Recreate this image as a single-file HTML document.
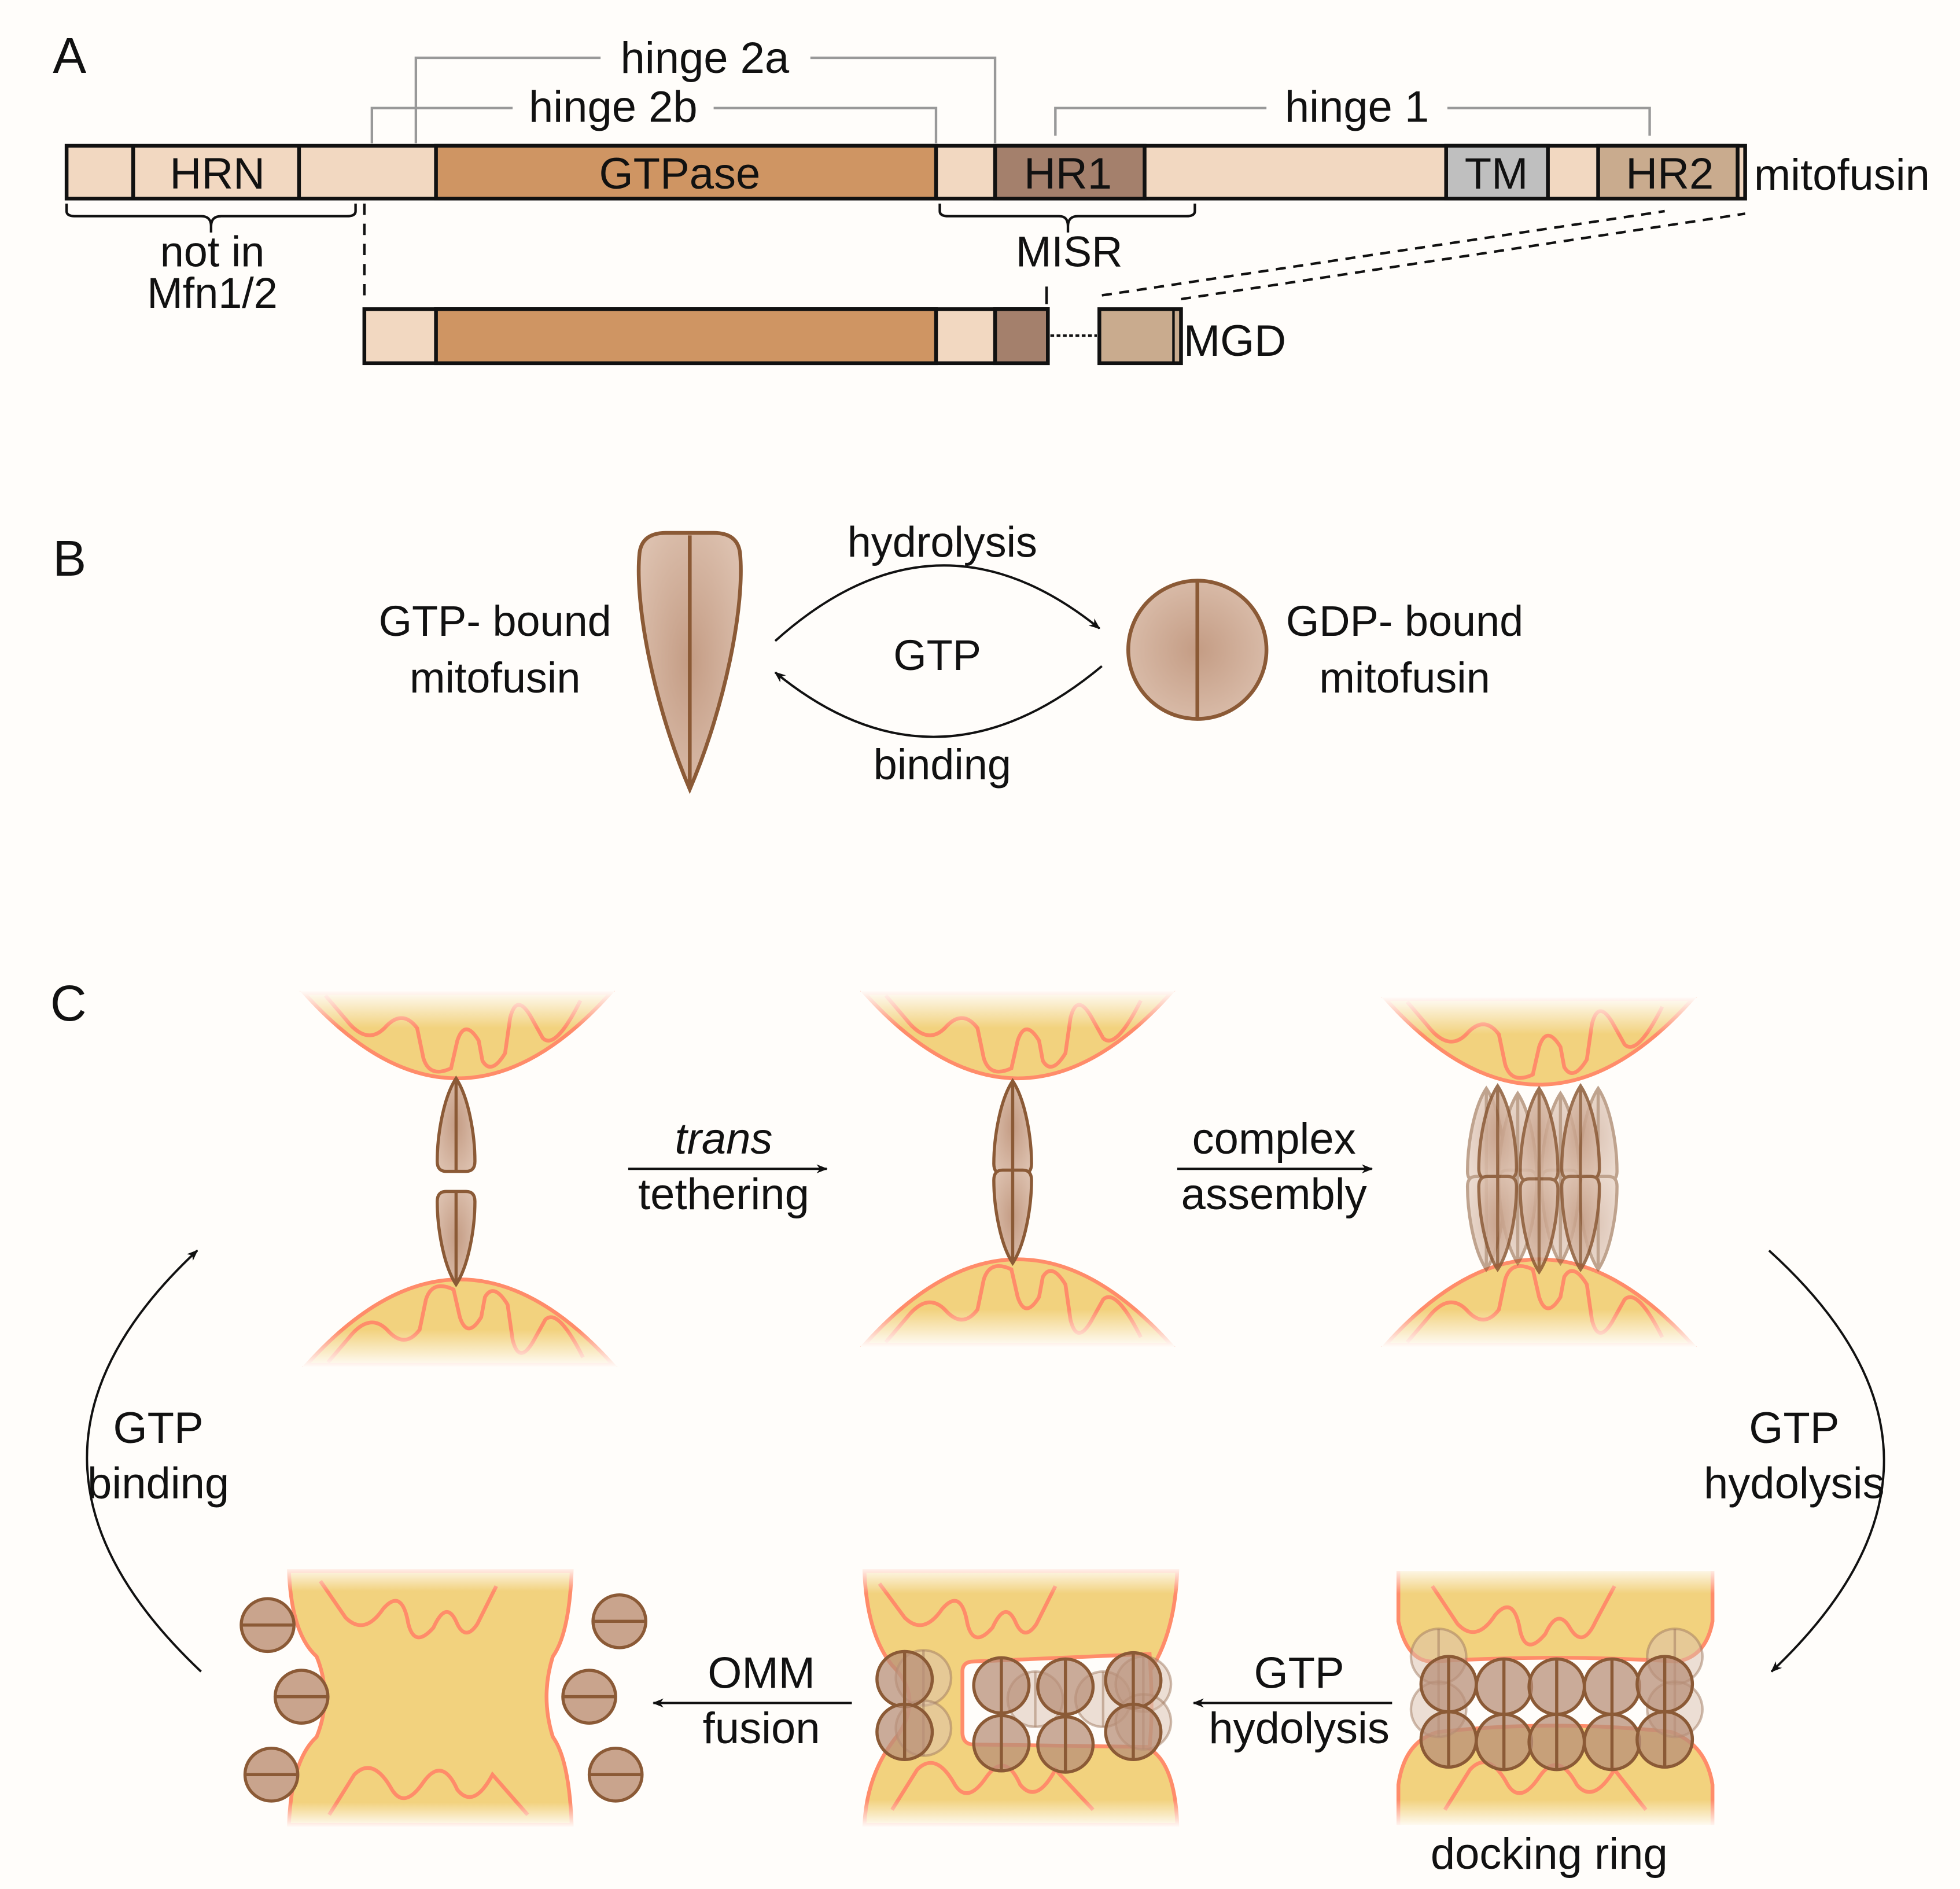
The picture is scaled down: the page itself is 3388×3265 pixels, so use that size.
<!DOCTYPE html>
<html><head><meta charset="utf-8"><style>
html,body{margin:0;padding:0;background:#fffdfa;}
svg{display:block;}
text{font-family:"Liberation Sans",Arial,sans-serif;fill:#111;}
</style></head><body>
<svg width="3388" height="3265" viewBox="0 0 1560 1503" preserveAspectRatio="none" xmlns="http://www.w3.org/2000/svg">
<defs>
<radialGradient id="br" cx="50%" cy="50%" r="60%"><stop offset="0" stop-color="#c49c84"/><stop offset="1" stop-color="#dcc0ae"/></radialGradient>
<linearGradient id="fadeT" x1="0" y1="0" x2="0" y2="1"><stop offset="0" stop-color="#fffdfa" stop-opacity="1"/><stop offset="1" stop-color="#fffdfa" stop-opacity="0"/></linearGradient>
<linearGradient id="fadeB" x1="0" y1="1" x2="0" y2="0"><stop offset="0" stop-color="#fffdfa" stop-opacity="1"/><stop offset="1" stop-color="#fffdfa" stop-opacity="0"/></linearGradient>
<marker id="ah" viewBox="0 0 10 10" refX="9" refY="5" markerWidth="9" markerHeight="9" orient="auto" markerUnits="userSpaceOnUse"><path d="M0,1 L10,5 L0,9 L3,5Z" fill="#111"/></marker>
<g id="topM">
<path d="M-122,0 Q0,136 122,0 Z" fill="#f2d27e" stroke="#ff8c6a" stroke-width="3"/>
<path d="M-105,2 L-88,22 Q-72,42 -58,28 Q-44,12 -32,28 L-27,52 Q-22,68 -5,60 L0,38 Q6,20 17,38 L20,54 Q27,66 38,48 L42,20 Q47,0 58,18 L68,36 Q78,46 98,6" fill="none" stroke="#ff8c6a" stroke-width="3"/>
<rect x="-125" y="-2" width="250" height="30" fill="url(#fadeT)"/>
</g>
<g id="td">
<path d="M0,0 C10,15 15,45 15,66 Q15,74 8,74 L-8,74 Q-15,74 -15,66 C-15,45 -10,15 0,0Z" fill="url(#br)" stroke="#8b5a36" stroke-width="2.5"/>
<line x1="0" y1="0" x2="0" y2="74" stroke="#8b5a36" stroke-width="2.5"/>
</g>
<g id="cv"><circle r="22" fill="#b88f78" fill-opacity="0.75" stroke="#8b5a36" stroke-width="2.5"/><line x1="0" y1="-22" x2="0" y2="22" stroke="#8b5a36" stroke-width="2.5"/></g>
<g id="cf"><circle r="22" fill="#d9bfae" fill-opacity="0.5" stroke="#a07a60" stroke-opacity="0.5" stroke-width="2"/><line x1="0" y1="-22" x2="0" y2="22" stroke="#a07a60" stroke-opacity="0.5" stroke-width="2"/></g>
<g id="ch"><circle r="21" fill="#c9a48d" stroke="#8b5a36" stroke-width="2.5"/><line x1="-21" y1="0" x2="21" y2="0" stroke="#8b5a36" stroke-width="2.5"/></g>
</defs>
<rect width="1560" height="1503" fill="#fffdfa"/>

<!-- A -->
<text x="42" y="58" font-size="40">A</text>
<g fill="none" stroke="#999" stroke-width="2">
<path d="M331,114 V46 H478 M645,46 H792 V114"/>
<path d="M296,114 V86 H408 M568,86 H745 V114"/>
<path d="M840,108 V86 H1008 M1152,86 H1313 V108"/>
</g>
<text x="561" y="58" font-size="35" text-anchor="middle">hinge 2a</text>
<text x="488" y="97" font-size="35" text-anchor="middle">hinge 2b</text>
<text x="1080" y="97" font-size="35" text-anchor="middle">hinge 1</text>
<g stroke="#111" stroke-width="3">
<rect x="53" y="116" width="1336" height="42" fill="#f2d8c1"/>
<rect x="347" y="116" width="398" height="42" fill="#cf9563"/>
<rect x="792" y="116" width="119" height="42" fill="#a4806c"/>
<rect x="1151" y="116" width="81" height="42" fill="#bfbfbf"/>
<rect x="1272" y="116" width="111" height="42" fill="#c9ab8e"/>
<line x1="106" y1="116" x2="106" y2="158"/><line x1="238" y1="116" x2="238" y2="158"/>
</g>
<g font-size="35" text-anchor="middle">
<text x="173" y="150">HRN</text><text x="541" y="150">GTPase</text><text x="850" y="150">HR1</text><text x="1191" y="150">TM</text><text x="1329" y="150">HR2</text>
</g>
<text x="1396" y="151" font-size="35">mitofusin</text>
<g fill="none" stroke="#111" stroke-width="2">
<path d="M53,162 V168 Q53,172 60,172 H160 Q168,172 168,180 V185 M168,180 Q168,172 176,172 H276 Q283,172 283,168 V162"/>
<path d="M748,162 V168 Q748,172 755,172 H843 Q850,172 850,180 V185 M850,180 Q850,172 858,172 H944 Q951,172 951,168 V162"/>
<line x1="290" y1="162" x2="290" y2="242" stroke-dasharray="9,7"/>
<line x1="833" y1="228" x2="833" y2="242"/>
<line x1="877" y1="235" x2="1325" y2="168" stroke-dasharray="8,6"/>
<line x1="940" y1="238" x2="1389" y2="170" stroke-dasharray="8,6"/>
<line x1="836" y1="267" x2="873" y2="267" stroke-dasharray="3,2"/>
</g>
<text x="169" y="212" font-size="34" text-anchor="middle">not in</text>
<text x="169" y="245" font-size="34" text-anchor="middle">Mfn1/2</text>
<text x="851" y="212" font-size="34" text-anchor="middle">MISR</text>
<g stroke="#111" stroke-width="3">
<rect x="290" y="246" width="544" height="43" fill="#f2d8c1"/>
<rect x="347" y="246" width="398" height="43" fill="#cf9563"/>
<rect x="792" y="246" width="42" height="43" fill="#a4806c"/>
<rect x="875" y="246" width="65" height="43" fill="#c9ab8e"/>
<line x1="934" y1="246" x2="934" y2="289" stroke-width="2"/>
</g>
<text x="942" y="283" font-size="35">MGD</text>

<!-- B -->
<text x="42" y="458" font-size="40">B</text>
<path d="M549,628 C520,560 505,480 509,440 Q511,424 530,424 L568,424 Q587,424 589,440 C593,480 578,560 549,628 Z" fill="url(#br)" stroke="#8b5a36" stroke-width="3"/>
<line x1="549" y1="426" x2="549" y2="626" stroke="#8b5a36" stroke-width="3"/>
<circle cx="953" cy="517" r="55" fill="url(#br)" stroke="#8b5a36" stroke-width="3"/>
<line x1="953" y1="462" x2="953" y2="572" stroke="#8b5a36" stroke-width="3"/>
<path d="M617,510 Q745,395 875,500" fill="none" stroke="#111" stroke-width="1.8" marker-end="url(#ah)"/>
<path d="M877,530 Q745,640 617,535" fill="none" stroke="#111" stroke-width="1.8" marker-end="url(#ah)"/>
<g font-size="34" text-anchor="middle">
<text x="750" y="443">hydrolysis</text><text x="746" y="533">GTP</text><text x="750" y="620">binding</text>
<text x="394" y="506">GTP- bound</text><text x="394" y="551">mitofusin</text>
<text x="1118" y="506">GDP- bound</text><text x="1118" y="551">mitofusin</text>
</g>

<!-- C -->
<text x="40" y="812" font-size="40">C</text>
<use href="#topM" transform="translate(364,790)"/>
<use href="#topM" transform="translate(366,1086) scale(1,-1)"/>
<use href="#td" transform="translate(363,858)"/>
<use href="#td" transform="translate(363,1022) scale(1,-1)"/>
<use href="#topM" transform="translate(810,790)"/>
<use href="#topM" transform="translate(810,1070) scale(1,-1)"/>
<use href="#td" transform="translate(806,860)"/>
<use href="#td" transform="translate(806,1005) scale(1,-1)"/>
<use href="#topM" transform="translate(1225,795)"/>
<use href="#topM" transform="translate(1225,1070) scale(1,-1)"/>
<g opacity="0.55">
<use href="#td" transform="translate(1183,866)"/><use href="#td" transform="translate(1183,1010) scale(1,-1)"/>
<use href="#td" transform="translate(1272,866)"/><use href="#td" transform="translate(1272,1010) scale(1,-1)"/>
<use href="#td" transform="translate(1208,870)"/><use href="#td" transform="translate(1208,1005) scale(1,-1)"/>
<use href="#td" transform="translate(1242,870)"/><use href="#td" transform="translate(1242,1005) scale(1,-1)"/>
</g>
<g opacity="0.85">
<use href="#td" transform="translate(1192,864)"/><use href="#td" transform="translate(1192,1010) scale(1,-1)"/>
<use href="#td" transform="translate(1225,866)"/><use href="#td" transform="translate(1225,1012) scale(1,-1)"/>
<use href="#td" transform="translate(1258,864)"/><use href="#td" transform="translate(1258,1010) scale(1,-1)"/>
</g>
<line x1="500" y1="930" x2="658" y2="930" stroke="#111" stroke-width="1.8" marker-end="url(#ah)"/>
<line x1="937" y1="930" x2="1092" y2="930" stroke="#111" stroke-width="1.8" marker-end="url(#ah)"/>
<g font-size="35" text-anchor="middle">
<text x="576" y="918" font-style="italic">trans</text><text x="576" y="962">tethering</text>
<text x="1014" y="918">complex</text><text x="1014" y="962">assembly</text>
<text x="1428" y="1148">GTP</text><text x="1428" y="1192">hydolysis</text>
<text x="126" y="1148">GTP</text><text x="126" y="1192">binding</text>
<text x="1034" y="1343">GTP</text><text x="1034" y="1387">hydolysis</text>
<text x="606" y="1343">OMM</text><text x="606" y="1387">fusion</text>
<text x="1233" y="1487">docking ring</text>
</g>
<path d="M1408,995 Q1590,1160 1410,1330" fill="none" stroke="#111" stroke-width="1.8" marker-end="url(#ah)"/>
<path d="M160,1330 Q-20,1160 157,995" fill="none" stroke="#111" stroke-width="1.8" marker-end="url(#ah)"/>
<line x1="1108" y1="1355" x2="950" y2="1355" stroke="#111" stroke-width="1.8" marker-end="url(#ah)"/>
<line x1="678" y1="1355" x2="520" y2="1355" stroke="#111" stroke-width="1.8" marker-end="url(#ah)"/>

<!-- panel 6 -->
<g stroke="#ff8c6a" stroke-width="3" fill="#f2d27e">
<path d="M1113,1250 V1290 Q1120,1322 1140,1322 Q1237,1316 1335,1322 Q1358,1318 1363,1290 V1250"/>
<path d="M1113,1452 V1420 Q1118,1385 1145,1378 Q1237,1368 1330,1378 Q1358,1388 1363,1420 V1452"/>
</g>
<path d="M1140,1262 L1160,1292 Q1175,1308 1190,1285 Q1205,1268 1210,1298 Q1215,1318 1230,1300 Q1240,1278 1250,1296 Q1260,1312 1270,1290 L1285,1262 M1150,1440 L1170,1408 Q1185,1392 1200,1420 Q1210,1436 1225,1414 Q1240,1392 1255,1420 Q1268,1436 1285,1408 L1310,1440" fill="none" stroke="#ff8c6a" stroke-width="3"/>
<use href="#cf" transform="translate(1145,1318)"/><use href="#cf" transform="translate(1145,1360)"/>
<use href="#cf" transform="translate(1333,1318)"/><use href="#cf" transform="translate(1333,1360)"/>
<use href="#cv" transform="translate(1153,1340)"/><use href="#cv" transform="translate(1197,1342)"/><use href="#cv" transform="translate(1239,1342)"/><use href="#cv" transform="translate(1283,1342)"/><use href="#cv" transform="translate(1325,1340)"/>
<use href="#cv" transform="translate(1153,1384)"/><use href="#cv" transform="translate(1197,1386)"/><use href="#cv" transform="translate(1239,1386)"/><use href="#cv" transform="translate(1283,1386)"/><use href="#cv" transform="translate(1325,1384)"/>
<rect x="1105" y="1246" width="265" height="22" fill="url(#fadeT)"/>
<rect x="1105" y="1432" width="265" height="22" fill="url(#fadeB)"/>

<!-- panel 5 -->
<path d="M688,1250 Q690,1300 710,1325 Q735,1350 715,1380 Q690,1410 688,1452 H937 Q935,1400 912,1390 Q905,1355 915,1330 Q935,1300 937,1250 Z" fill="#f2d27e" stroke="#ff8c6a" stroke-width="3"/>
<path d="M766,1330 Q766,1322 775,1322 L915,1316 Q918,1360 915,1390 L775,1388 Q766,1388 766,1378 Z" fill="#fffdfa" stroke="#ff8c6a" stroke-width="3"/>
<path d="M700,1260 L720,1287 Q735,1302 750,1280 Q765,1263 770,1292 Q775,1312 790,1295 Q800,1273 808,1290 Q815,1307 825,1292 L840,1262 M710,1440 L730,1408 Q745,1393 760,1420 Q770,1436 785,1414 Q800,1393 812,1420 Q825,1436 840,1408 L870,1440" fill="none" stroke="#ff8c6a" stroke-width="3"/>
<use href="#cf" transform="translate(735,1335)"/><use href="#cf" transform="translate(735,1375)"/>
<use href="#cf" transform="translate(824,1352)"/><use href="#cf" transform="translate(878,1352)"/><use href="#cf" transform="translate(910,1340)"/><use href="#cf" transform="translate(910,1370)"/>
<use href="#cv" transform="translate(720,1336)"/><use href="#cv" transform="translate(720,1378)"/>
<use href="#cv" transform="translate(797,1341)"/><use href="#cv" transform="translate(797,1387)"/>
<use href="#cv" transform="translate(848,1342)"/><use href="#cv" transform="translate(848,1388)"/>
<use href="#cv" transform="translate(902,1337)"/><use href="#cv" transform="translate(902,1378)"/>
<rect x="680" y="1246" width="265" height="22" fill="url(#fadeT)"/>
<rect x="680" y="1432" width="265" height="22" fill="url(#fadeB)"/>

<!-- panel 4 -->
<path d="M230,1250 Q232,1300 252,1318 Q265,1350 252,1382 Q232,1400 230,1452 H455 Q453,1400 440,1382 Q430,1350 440,1318 Q453,1300 455,1250 Z" fill="#f2d27e" stroke="#ff8c6a" stroke-width="3"/>
<path d="M255,1258 L275,1287 Q290,1302 305,1280 Q320,1263 325,1292 Q330,1312 345,1295 Q355,1273 363,1290 Q370,1307 380,1292 L395,1262 M262,1444 L282,1412 Q297,1397 312,1424 Q322,1440 337,1418 Q352,1397 364,1424 Q377,1440 392,1412 L420,1444" fill="none" stroke="#ff8c6a" stroke-width="3"/>
<use href="#ch" transform="translate(213,1293)"/><use href="#ch" transform="translate(240,1350)"/><use href="#ch" transform="translate(216,1412)"/>
<use href="#ch" transform="translate(493,1290)"/><use href="#ch" transform="translate(469,1350)"/><use href="#ch" transform="translate(490,1412)"/>
<rect x="225" y="1246" width="235" height="20" fill="url(#fadeT)"/>
<rect x="225" y="1434" width="235" height="20" fill="url(#fadeB)"/>
</svg>
</body></html>
